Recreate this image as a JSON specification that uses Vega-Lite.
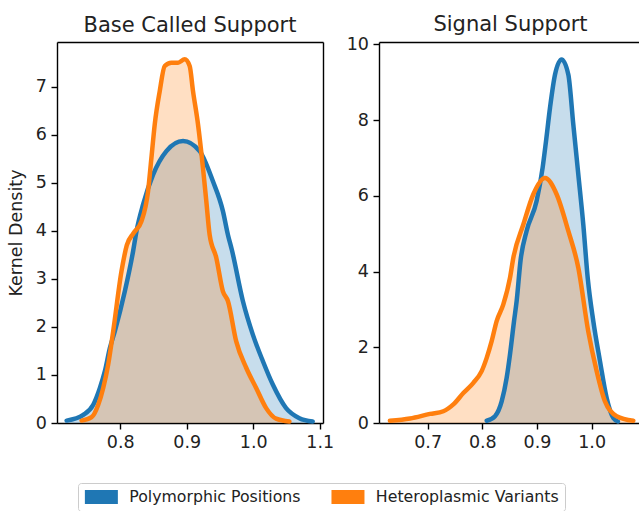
{
  "$schema": "https://vega.github.io/schema/vega-lite/v6.json",
  "padding": {"left": 7, "top": 13, "right": 0, "bottom": 0},
  "background": "white",
  "datasets": {
    "base": [
      {"series": "Polymorphic Positions", "x": 0.7195, "y": 0.05},
      {"series": "Polymorphic Positions", "x": 0.7445, "y": 0.17},
      {"series": "Polymorphic Positions", "x": 0.7595, "y": 0.38},
      {"series": "Polymorphic Positions", "x": 0.7695, "y": 0.73},
      {"series": "Polymorphic Positions", "x": 0.777, "y": 1.08},
      {"series": "Polymorphic Positions", "x": 0.7845, "y": 1.56},
      {"series": "Polymorphic Positions", "x": 0.792, "y": 1.91},
      {"series": "Polymorphic Positions", "x": 0.807, "y": 2.74},
      {"series": "Polymorphic Positions", "x": 0.8195, "y": 3.58},
      {"series": "Polymorphic Positions", "x": 0.8245, "y": 3.99},
      {"series": "Polymorphic Positions", "x": 0.8345, "y": 4.55},
      {"series": "Polymorphic Positions", "x": 0.8495, "y": 5.17},
      {"series": "Polymorphic Positions", "x": 0.8695, "y": 5.66},
      {"series": "Polymorphic Positions", "x": 0.8945, "y": 5.87},
      {"series": "Polymorphic Positions", "x": 0.9195, "y": 5.66},
      {"series": "Polymorphic Positions", "x": 0.9395, "y": 5.03},
      {"series": "Polymorphic Positions", "x": 0.9545, "y": 4.41},
      {"series": "Polymorphic Positions", "x": 0.962, "y": 3.92},
      {"series": "Polymorphic Positions", "x": 0.968, "y": 3.6},
      {"series": "Polymorphic Positions", "x": 0.9845, "y": 2.54},
      {"series": "Polymorphic Positions", "x": 0.9995, "y": 1.84},
      {"series": "Polymorphic Positions", "x": 1.0145, "y": 1.29},
      {"series": "Polymorphic Positions", "x": 1.0295, "y": 0.8},
      {"series": "Polymorphic Positions", "x": 1.0495, "y": 0.31},
      {"series": "Polymorphic Positions", "x": 1.0695, "y": 0.1},
      {"series": "Polymorphic Positions", "x": 1.0895, "y": 0.03},
      {"series": "Heteroplasmic Variants", "x": 0.742, "y": 0.05},
      {"series": "Heteroplasmic Variants", "x": 0.757, "y": 0.12},
      {"series": "Heteroplasmic Variants", "x": 0.767, "y": 0.38},
      {"series": "Heteroplasmic Variants", "x": 0.7745, "y": 0.73},
      {"series": "Heteroplasmic Variants", "x": 0.782, "y": 1.22},
      {"series": "Heteroplasmic Variants", "x": 0.7895, "y": 1.91},
      {"series": "Heteroplasmic Variants", "x": 0.802, "y": 3.16},
      {"series": "Heteroplasmic Variants", "x": 0.81, "y": 3.7},
      {"series": "Heteroplasmic Variants", "x": 0.82, "y": 3.95},
      {"series": "Heteroplasmic Variants", "x": 0.832, "y": 4.2},
      {"series": "Heteroplasmic Variants", "x": 0.842, "y": 4.83},
      {"series": "Heteroplasmic Variants", "x": 0.847, "y": 5.52},
      {"series": "Heteroplasmic Variants", "x": 0.852, "y": 6.22},
      {"series": "Heteroplasmic Variants", "x": 0.8595, "y": 6.91},
      {"series": "Heteroplasmic Variants", "x": 0.867, "y": 7.43},
      {"series": "Heteroplasmic Variants", "x": 0.877, "y": 7.5},
      {"series": "Heteroplasmic Variants", "x": 0.887, "y": 7.5},
      {"series": "Heteroplasmic Variants", "x": 0.897, "y": 7.57},
      {"series": "Heteroplasmic Variants", "x": 0.9045, "y": 7.43},
      {"series": "Heteroplasmic Variants", "x": 0.9095, "y": 6.91},
      {"series": "Heteroplasmic Variants", "x": 0.917, "y": 6.22},
      {"series": "Heteroplasmic Variants", "x": 0.9245, "y": 5.31},
      {"series": "Heteroplasmic Variants", "x": 0.9295, "y": 4.62},
      {"series": "Heteroplasmic Variants", "x": 0.9345, "y": 3.92},
      {"series": "Heteroplasmic Variants", "x": 0.9445, "y": 3.44},
      {"series": "Heteroplasmic Variants", "x": 0.9545, "y": 2.74},
      {"series": "Heteroplasmic Variants", "x": 0.962, "y": 2.54},
      {"series": "Heteroplasmic Variants", "x": 0.9745, "y": 1.7},
      {"series": "Heteroplasmic Variants", "x": 0.9895, "y": 1.15},
      {"series": "Heteroplasmic Variants", "x": 1.0045, "y": 0.73},
      {"series": "Heteroplasmic Variants", "x": 1.0195, "y": 0.31},
      {"series": "Heteroplasmic Variants", "x": 1.0345, "y": 0.09},
      {"series": "Heteroplasmic Variants", "x": 1.0545, "y": 0.03}
    ],
    "signal": [
      {"series": "Polymorphic Positions", "x": 0.808, "y": 0.06},
      {"series": "Polymorphic Positions", "x": 0.8232, "y": 0.18},
      {"series": "Polymorphic Positions", "x": 0.8354, "y": 0.57},
      {"series": "Polymorphic Positions", "x": 0.8445, "y": 1.19},
      {"series": "Polymorphic Positions", "x": 0.8506, "y": 1.81},
      {"series": "Polymorphic Positions", "x": 0.858, "y": 2.69},
      {"series": "Polymorphic Positions", "x": 0.8628, "y": 3.22},
      {"series": "Polymorphic Positions", "x": 0.87, "y": 4.3},
      {"series": "Polymorphic Positions", "x": 0.881, "y": 5.07},
      {"series": "Polymorphic Positions", "x": 0.8993, "y": 5.86},
      {"series": "Polymorphic Positions", "x": 0.9103, "y": 6.74},
      {"series": "Polymorphic Positions", "x": 0.9165, "y": 7.44},
      {"series": "Polymorphic Positions", "x": 0.9238, "y": 8.32},
      {"series": "Polymorphic Positions", "x": 0.933, "y": 9.2},
      {"series": "Polymorphic Positions", "x": 0.945, "y": 9.6},
      {"series": "Polymorphic Positions", "x": 0.9573, "y": 9.2},
      {"series": "Polymorphic Positions", "x": 0.9664, "y": 7.89},
      {"series": "Polymorphic Positions", "x": 0.9756, "y": 6.56},
      {"series": "Polymorphic Positions", "x": 0.9847, "y": 5.24},
      {"series": "Polymorphic Positions", "x": 0.993, "y": 3.8},
      {"series": "Polymorphic Positions", "x": 1.003, "y": 2.69},
      {"series": "Polymorphic Positions", "x": 1.0153, "y": 1.63},
      {"series": "Polymorphic Positions", "x": 1.0275, "y": 0.66},
      {"series": "Polymorphic Positions", "x": 1.0397, "y": 0.13},
      {"series": "Polymorphic Positions", "x": 1.048, "y": 0.04},
      {"series": "Heteroplasmic Variants", "x": 0.631, "y": 0.06},
      {"series": "Heteroplasmic Variants", "x": 0.6677, "y": 0.12},
      {"series": "Heteroplasmic Variants", "x": 0.7043, "y": 0.24},
      {"series": "Heteroplasmic Variants", "x": 0.7287, "y": 0.31},
      {"series": "Heteroplasmic Variants", "x": 0.747, "y": 0.49},
      {"series": "Heteroplasmic Variants", "x": 0.7653, "y": 0.79},
      {"series": "Heteroplasmic Variants", "x": 0.7836, "y": 1.06},
      {"series": "Heteroplasmic Variants", "x": 0.7988, "y": 1.37},
      {"series": "Heteroplasmic Variants", "x": 0.808, "y": 1.72},
      {"series": "Heteroplasmic Variants", "x": 0.8171, "y": 2.16},
      {"series": "Heteroplasmic Variants", "x": 0.8262, "y": 2.69},
      {"series": "Heteroplasmic Variants", "x": 0.8384, "y": 3.13},
      {"series": "Heteroplasmic Variants", "x": 0.8506, "y": 3.83},
      {"series": "Heteroplasmic Variants", "x": 0.8567, "y": 4.36},
      {"series": "Heteroplasmic Variants", "x": 0.875, "y": 5.24},
      {"series": "Heteroplasmic Variants", "x": 0.8933, "y": 6.04},
      {"series": "Heteroplasmic Variants", "x": 0.9146, "y": 6.47},
      {"series": "Heteroplasmic Variants", "x": 0.9359, "y": 6.04},
      {"series": "Heteroplasmic Variants", "x": 0.9573, "y": 5.07},
      {"series": "Heteroplasmic Variants", "x": 0.9756, "y": 4.1},
      {"series": "Heteroplasmic Variants", "x": 0.9938, "y": 2.42},
      {"series": "Heteroplasmic Variants", "x": 1.0092, "y": 1.37},
      {"series": "Heteroplasmic Variants", "x": 1.0244, "y": 0.57},
      {"series": "Heteroplasmic Variants", "x": 1.0457, "y": 0.18},
      {"series": "Heteroplasmic Variants", "x": 1.0762, "y": 0.06}
    ]
  },
  "hconcat": [
    {
      "width": 266,
      "height": 381,
      "title": {"text": "Base Called Support", "offset": 6},
      "data": {"name": "base"},
      "encoding": {
        "color": {
          "field": "series",
          "type": "nominal",
          "scale": {"domain": ["Polymorphic Positions", "Heteroplasmic Variants"], "range": ["#1f77b4", "#ff7f0e"]},
          "legend": {
            "orient": "none",
            "direction": "horizontal",
            "legendX": 21,
            "legendY": 441,
            "title": null,
            "symbolType": "M-2.357,-1H2.357V1H-2.357Z",
            "symbolSize": 196,
            "symbolOffset": 9.5,
            "symbolStrokeWidth": 0,
            "symbolOpacity": 1,
            "labelFontSize": 15.75,
            "labelFont": "DejaVu Sans",
            "labelColor": "#222222",
            "labelLimit": 400,
            "labelOffset": 20,
            "columnPadding": 29.6,
            "padding": 6,
            "strokeColor": "#cccccc",
            "fillColor": "white",
            "cornerRadius": 3,
            "encode": {
              "symbols": {"update": {"fill": {"scale": "color", "field": "value"}, "fillOpacity": {"value": 1}, "opacity": {"value": 1}, "strokeWidth": {"value": 0}}}
            }
          }
        }
      },
      "layer": [
        {
          "transform": [{"filter": "datum.series === 'Polymorphic Positions'"}],
          "mark": {"type": "area", "fillOpacity": 0.25, "interpolate": "monotone"},
          "encoding": {
            "x": {"field": "x", "type": "quantitative", "scale": {"domain": [0.705, 1.105], "nice": false, "zero": false},
                  "axis": {"orient": "top", "labels": false, "ticks": false, "title": null, "grid": false}},
            "y": {"field": "y", "type": "quantitative", "scale": {"domain": [0, 7.93], "nice": false},
                  "axis": {"orient": "left", "values": [0, 1, 2, 3, 4, 5, 6, 7], "title": "Kernel Density", "titlePadding": 10, "grid": false}}
          }
        },
        {
          "transform": [{"filter": "datum.series === 'Heteroplasmic Variants'"}],
          "mark": {"type": "area", "fillOpacity": 0.25, "interpolate": "monotone"},
          "encoding": {
            "x": {"field": "x", "type": "quantitative", "axis": null},
            "y": {"field": "y", "type": "quantitative", "axis": null}
          }
        },
        {
          "transform": [{"filter": "datum.series === 'Polymorphic Positions'"}],
          "mark": {"type": "line", "strokeWidth": 4.5, "interpolate": "monotone", "strokeCap": "round", "strokeJoin": "round"},
          "encoding": {
            "x": {"field": "x", "type": "quantitative",
                  "axis": {"orient": "bottom", "values": [0.8, 0.9, 1.0, 1.1], "format": ".1f", "title": null, "grid": false}},
            "y": {"field": "y", "type": "quantitative",
                  "axis": {"orient": "right", "labels": false, "ticks": false, "title": null, "grid": false}}
          }
        },
        {
          "transform": [{"filter": "datum.series === 'Heteroplasmic Variants'"}],
          "mark": {"type": "line", "strokeWidth": 4.5, "interpolate": "monotone", "strokeCap": "round", "strokeJoin": "round"},
          "encoding": {
            "x": {"field": "x", "type": "quantitative", "axis": null},
            "y": {"field": "y", "type": "quantitative", "axis": null}
          }
        }
      ]
    },
    {
      "width": 263,
      "height": 381,
      "title": {"text": "Signal Support", "offset": 0.7},
      "data": {"name": "signal"},
      "encoding": {
        "color": {"field": "series", "type": "nominal"}
      },
      "layer": [
        {
          "transform": [{"filter": "datum.series === 'Polymorphic Positions'"}],
          "mark": {"type": "area", "fillOpacity": 0.25, "interpolate": "monotone"},
          "encoding": {
            "x": {"field": "x", "type": "quantitative", "scale": {"domain": [0.611, 1.0921], "nice": false, "zero": false},
                  "axis": {"orient": "top", "labels": false, "ticks": false, "title": null, "grid": false}},
            "y": {"field": "y", "type": "quantitative", "scale": {"domain": [0, 10.06], "nice": false},
                  "axis": {"orient": "left", "values": [0, 2, 4, 6, 8, 10], "title": null, "grid": false}}
          }
        },
        {
          "transform": [{"filter": "datum.series === 'Heteroplasmic Variants'"}],
          "mark": {"type": "area", "fillOpacity": 0.25, "interpolate": "monotone"},
          "encoding": {
            "x": {"field": "x", "type": "quantitative", "axis": null},
            "y": {"field": "y", "type": "quantitative", "axis": null}
          }
        },
        {
          "transform": [{"filter": "datum.series === 'Polymorphic Positions'"}],
          "mark": {"type": "line", "strokeWidth": 4.5, "interpolate": "monotone", "strokeCap": "round", "strokeJoin": "round"},
          "encoding": {
            "x": {"field": "x", "type": "quantitative",
                  "axis": {"orient": "bottom", "values": [0.7, 0.8, 0.9, 1.0], "format": ".1f", "title": null, "grid": false}},
            "y": {"field": "y", "type": "quantitative",
                  "axis": {"orient": "right", "labels": false, "ticks": false, "domain": false, "title": null, "grid": false}}
          }
        },
        {
          "transform": [{"filter": "datum.series === 'Heteroplasmic Variants'"}],
          "mark": {"type": "line", "strokeWidth": 4.5, "interpolate": "monotone", "strokeCap": "round", "strokeJoin": "round"},
          "encoding": {
            "x": {"field": "x", "type": "quantitative", "axis": null},
            "y": {"field": "y", "type": "quantitative", "axis": null}
          }
        }
      ]
    }
  ],
  "spacing": 12,
  "resolve": {"scale": {"x": "independent", "y": "independent"}},
  "config": {
    "font": "DejaVu Sans",
    "view": {"stroke": null},
    "axis": {
      "grid": false,
      "domainColor": "black",
      "domainWidth": 1.4,
      "tickColor": "black",
      "tickWidth": 1.4,
      "tickSize": 6,
      "labelFont": "DejaVu Sans",
      "labelFontSize": 17.5,
      "labelColor": "#222222",
      "labelPadding": 4.5,
      "titleFont": "DejaVu Sans",
      "titleFontSize": 17.5,
      "titleFontWeight": "normal",
      "titleColor": "#222222",
      "titlePadding": 8
    },
    "title": {"font": "DejaVu Sans", "fontSize": 21, "fontWeight": "normal", "color": "#222222", "baseline": "alphabetic", "anchor": "middle"}
  }
}
